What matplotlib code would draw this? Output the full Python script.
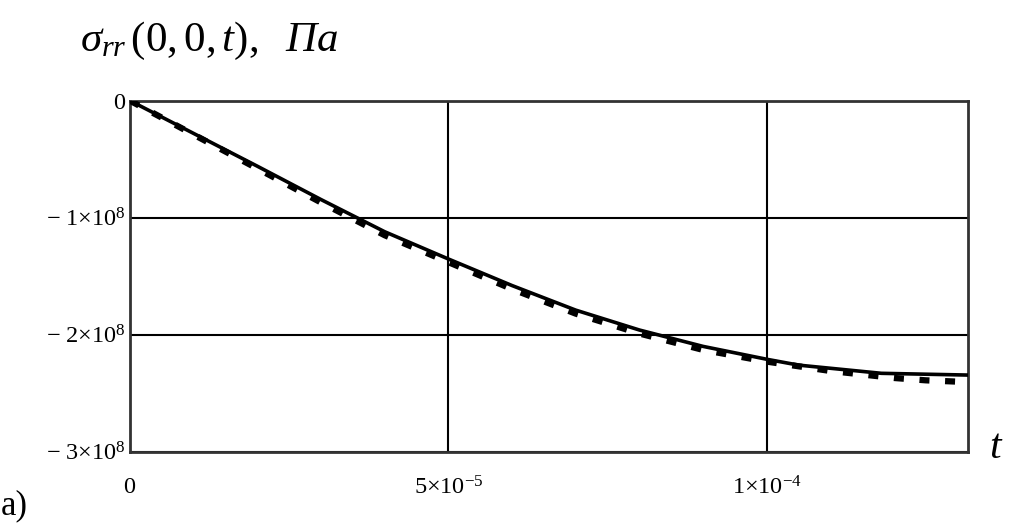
import numpy as np
import matplotlib.pyplot as plt

plt.rcParams['font.family'] = ['Liberation Serif', 'DejaVu Serif']
plt.rcParams['mathtext.fontset'] = 'custom'
plt.rcParams['mathtext.rm'] = 'Liberation Serif'
plt.rcParams['mathtext.it'] = 'Liberation Serif:italic'
plt.rcParams['mathtext.bf'] = 'Liberation Serif:bold'

# время, с
t_solid = [0, 1e-5, 2e-5, 3e-5, 4e-5, 5e-5, 6e-5, 7e-5, 8e-5, 9e-5, 1e-4, 1.05e-4, 1.18e-4, 1.316e-4]
# напряжение sigma_rr(0,0,t), Па — сплошная кривая
s_solid = [0, -0.28e8, -0.56e8, -0.845e8, -1.12e8, -1.353e8, -1.58e8, -1.79e8, -1.96e8,
           -2.10e8, -2.21e8, -2.26e8, -2.33e8, -2.345e8]

t_dot = [0, 1e-5, 2e-5, 3e-5, 4e-5, 5e-5, 6e-5, 7e-5, 8e-5, 9e-5, 1e-4, 1.05e-4, 1.1e-4,
         1.2e-4, 1.25e-4, 1.316e-4]
# пунктирная кривая
s_dot = [0, -0.29e8, -0.58e8, -0.87e8, -1.15e8, -1.38e8, -1.61e8, -1.82e8, -1.99e8,
         -2.13e8, -2.23e8, -2.27e8, -2.31e8, -2.37e8, -2.39e8, -2.405e8]

x_ticks = [0, 5e-5, 1e-4]
x_labels = ['$0$', r'$5{\times}10^{-5}$', r'$1{\times}10^{-4}$']
y_ticks = [0, -1e8, -2e8, -3e8]
y_labels = ['$0$', r'$-\ 1{\times}10^{8}$', r'$-\ 2{\times}10^{8}$', r'$-\ 3{\times}10^{8}$']

fig = plt.figure(figsize=(10.15, 5.25), dpi=100)
ax = fig.add_axes([130/1015, 1-451.7/525, 838/1015, 351/525])

ax.plot(t_dot, s_dot, color='black', lw=4.5, linestyle=(0, (1.6, 2.5)),
        dash_capstyle='butt', zorder=3)
ax.plot(t_solid, s_solid, color='black', lw=2.6, zorder=4)

ax.set_xlim(0, 1.316e-4)
ax.set_ylim(-3e8, 0)
ax.set_xticks(x_ticks)
ax.set_xticklabels(x_labels, fontsize=17.5)
ax.set_yticks(y_ticks)
ax.set_yticklabels(y_labels, fontsize=17.5)
ax.tick_params(axis='both', length=0)
ax.tick_params(axis='x', pad=18)
ax.tick_params(axis='y', pad=3)
ax.grid(True, color='black', lw=1.5)
for s in ax.spines.values():
    s.set_linewidth(2.0)
    s.set_color('#333333')

fig.text(80/1015, 1-41/525, r'$\sigma_{rr}\,(0,0,t),\ \ \mathit{Па}$',
         fontsize=31, ha='left', va='center')
fig.text(996/1015, 1-448/525, '$t$', fontsize=30, ha='center', va='center')
fig.text(1/1015, 1-506/525, 'a)', fontsize=25, ha='left', va='center')

fig.savefig('out.png', dpi=100)
